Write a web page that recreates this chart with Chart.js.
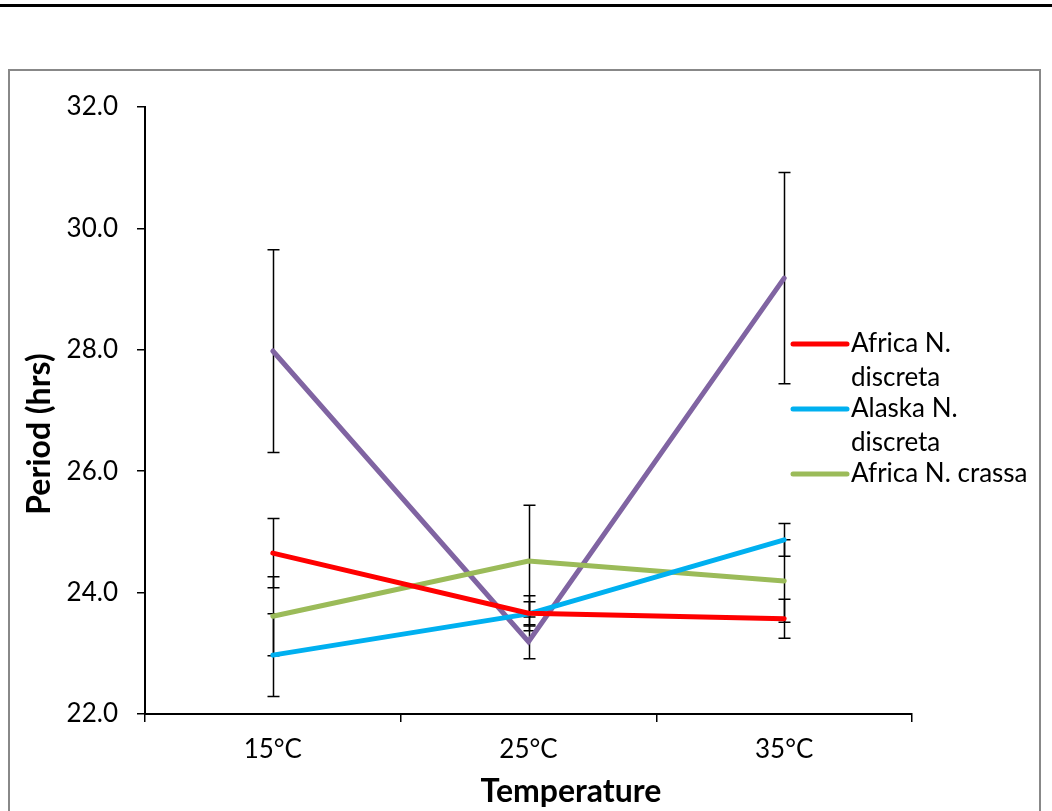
<!DOCTYPE html>
<html lang="en">
<head>
  <meta charset="UTF-8">
  <title>Period vs Temperature</title>
  <script src="https://cdn.jsdelivr.net/npm/chart.js"></script>
  <style>
    body { margin: 0; background: #fff; }
    canvas { display: block; }
  </style>
</head>
<body>
<canvas id="periodChart" width="1052" height="811"></canvas>

<script>
// values
const temps = ["15°C", "25°C", "35°C"];
const africaDiscreta = [24.65, 23.66, 23.57];
const africaDiscretaErr = [0.57, 0.29, 0.32];
const alaskaDiscreta = [22.97, 23.65, 24.87];
const alaskaDiscretaErr = [0.68, 0.20, 0.27];
const africaCrassa = [23.61, 24.52, 24.19];
const africaCrassaErr = [0.65, 0.92, 0.68];
const fourthSeries = [27.98, 23.19, 29.18];
const fourthSeriesErr = [1.67, 0.28, 1.74];
const yTicks = [22, 24, 26, 28, 30, 32];

const FONT = "Lato, 'Open Sans', sans-serif";

// black line at the top + grey frame round the chart
const frame = {
  id: 'frame',
  beforeDraw(chart) {
    const ctx = chart.ctx;
    ctx.save();
    ctx.fillStyle = '#fff';
    ctx.fillRect(0, 0, chart.width, chart.height);
    ctx.fillStyle = '#000';
    ctx.fillRect(0, 4, chart.width, 3);
    ctx.strokeStyle = '#888';
    ctx.lineWidth = 2;
    ctx.strokeRect(9, 70, 1031, 800);
    ctx.restore();
  }
};

const errorBars = {
  id: 'errorBars',
  beforeDatasetsDraw(chart) {
    const { ctx, scales: { x, y } } = chart;
    ctx.save();
    ctx.strokeStyle = '#000';
    ctx.lineWidth = 1.5;
    chart.data.datasets.forEach(ds => {
      ds.data.forEach((v, j) => {
        const e = ds.errors[j];
        const px = Math.round(x.getPixelForValue(j)) + 0.5;
        const top = y.getPixelForValue(v + e);
        const bot = y.getPixelForValue(v - e);
        ctx.beginPath();
        ctx.moveTo(px, top); ctx.lineTo(px, bot);
        ctx.moveTo(px - 6, top); ctx.lineTo(px + 6, top);
        ctx.moveTo(px - 6, bot); ctx.lineTo(px + 6, bot);
        ctx.stroke();
      });
    });
    ctx.restore();
  }
};

// legend (wrapped like the original) and the two axis titles
const labels = {
  id: 'labels',
  afterDraw(chart) {
    const ctx = chart.ctx;
    ctx.save();
    const entries = [
      { color: '#FF0000', lines: ['Africa N.', 'discreta'], y: 344 },
      { color: '#00B0F0', lines: ['Alaska N.', 'discreta'], y: 409 },
      { color: '#9BBB59', lines: ['Africa N. crassa'], y: 474 }
    ];
    ctx.font = "26px " + FONT;
    ctx.textBaseline = 'middle';
    ctx.fillStyle = '#000';
    entries.forEach(en => {
      ctx.strokeStyle = en.color;
      ctx.lineWidth = 5;
      ctx.lineCap = 'round';
      ctx.beginPath();
      ctx.moveTo(793, en.y); ctx.lineTo(847, en.y);
      ctx.stroke();
      en.lines.forEach((t, k) => ctx.fillText(t, 851, en.y + k * 34));
    });

    ctx.font = "bold 32px " + FONT;
    ctx.textAlign = 'center';
    ctx.fillText('Temperature', 571, 792);
    ctx.translate(40, 434);
    ctx.rotate(-Math.PI / 2);
    ctx.fillText('Period (hrs)', 0, 0);
    ctx.restore();
  }
};

const lineDs = (data, errors, color) => ({
  data, errors,
  borderColor: color,
  backgroundColor: color,
  borderWidth: 5,
  borderCapStyle: 'round',
  borderJoinStyle: 'miter',
  pointRadius: 0,
  tension: 0,
  fill: false
});

new Chart(document.getElementById('periodChart'), {
  type: 'line',
  data: {
    labels: temps,
    datasets: [
      lineDs(africaDiscreta, africaDiscretaErr, '#FF0000'),
      lineDs(alaskaDiscreta, alaskaDiscretaErr, '#00B0F0'),
      lineDs(africaCrassa, africaCrassaErr, '#9BBB59'),
      lineDs(fourthSeries, fourthSeriesErr, '#8064A2')
    ]
  },
  options: {
    responsive: false,
    animation: false,
    layout: { padding: { top: 107, right: 140, left: 0, bottom: 0 } },
    plugins: {
      legend: { display: false },
      tooltip: { enabled: false }
    },
    scales: {
      x: {
        offset: true,
        grid: { offset: true, drawOnChartArea: false, tickLength: 8, color: '#000', lineWidth: 1.5 },
        border: { color: '#000', width: 2 },
        ticks: { color: '#000', font: { family: FONT, size: 26 }, padding: 12 },
        afterFit: s => { s.height = 97; }
      },
      y: {
        min: 22, max: 32,
        afterBuildTicks: s => { s.ticks = yTicks.map(v => ({ value: v })); },
        grid: { drawOnChartArea: false, tickLength: 8, color: '#000', lineWidth: 1.5 },
        border: { color: '#000', width: 2 },
        ticks: { color: '#000', font: { family: FONT, size: 26 }, padding: 19,
                 callback: v => Number(v).toFixed(1) },
        afterFit: s => { s.width = 145; }
      }
    }
  },
  plugins: [frame, errorBars, labels]
});
</script>
</body>
</html>
